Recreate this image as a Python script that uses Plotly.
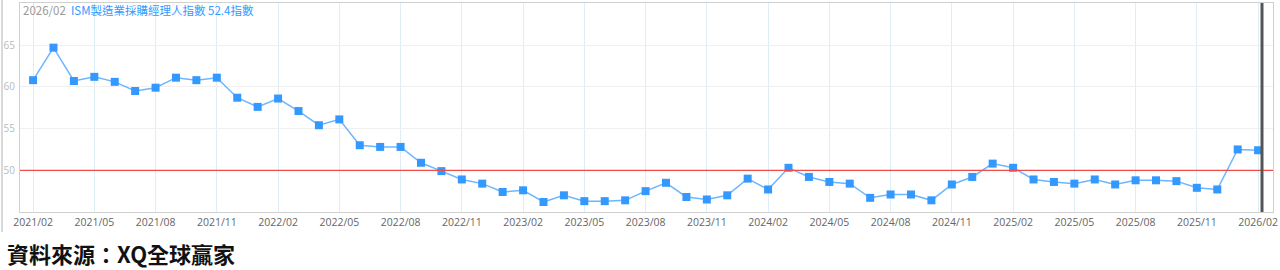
import plotly.graph_objects as go

months = [
    "2021/02","2021/03","2021/04","2021/05","2021/06","2021/07","2021/08","2021/09","2021/10","2021/11","2021/12",
    "2022/01","2022/02","2022/03","2022/04","2022/05","2022/06","2022/07","2022/08","2022/09","2022/10","2022/11","2022/12",
    "2023/01","2023/02","2023/03","2023/04","2023/05","2023/06","2023/07","2023/08","2023/09","2023/10","2023/11","2023/12",
    "2024/01","2024/02","2024/03","2024/04","2024/05","2024/06","2024/07","2024/08","2024/09","2024/10","2024/11","2024/12",
    "2025/01","2025/02","2025/03","2025/04","2025/05","2025/06","2025/07","2025/08","2025/09","2025/10","2025/11","2025/12",
    "2026/01","2026/02",
]
pmi = [
    60.8, 64.7, 60.7, 61.2, 60.6, 59.5, 59.9, 61.1, 60.8, 61.1, 58.7,
    57.6, 58.6, 57.1, 55.4, 56.1, 53.0, 52.8, 52.8, 50.9, 49.9, 48.9, 48.4,
    47.4, 47.6, 46.2, 47.0, 46.3, 46.3, 46.4, 47.5, 48.5, 46.8, 46.5, 47.0,
    49.0, 47.7, 50.3, 49.2, 48.6, 48.4, 46.7, 47.1, 47.1, 46.4, 48.3, 49.2,
    50.8, 50.3, 48.9, 48.6, 48.4, 48.9, 48.3, 48.8, 48.8, 48.7, 47.9, 47.7,
    52.5, 52.4,
]
threshold = 50
y_ticks = [50, 55, 60, 65]
tick_step = 3
title_date = "2026/02"
title_name = "ISM製造業採購經理人指數"
title_unit = "指數"
source_text = "資料來源：XQ全球贏家"

x_idx = list(range(len(months)))
tickvals = x_idx[::tick_step]
ticktext = months[::tick_step]

W, H = 1280, 270
L, R, T, B = 20, 7, 3, 58
pw, ph = W - L - R, H - T - B

def px_x(p):
    return (p - L) / pw

def px_y(p):
    return (H - B - p) / ph

fig = go.Figure()
fig.add_trace(go.Scatter(
    x=x_idx, y=pmi, mode="lines+markers",
    line=dict(color="#6cb6ff", width=1.5),
    marker=dict(symbol="square", size=8, color="#3399ff"),
    hoverinfo="skip", showlegend=False,
))

fig.add_shape(type="line", xref="paper", yref="y", x0=0, x1=1, y0=threshold, y1=threshold,
              line=dict(color="#ee4b4b", width=1.2), layer="above")
# cursor line
fig.add_shape(type="line", xref="paper", yref="paper", x0=px_x(1262), x1=px_x(1262), y0=0, y1=1,
              line=dict(color="#555555", width=3), layer="above")
# outer panel left border
fig.add_shape(type="line", xref="paper", yref="paper", x0=px_x(2), x1=px_x(2), y0=px_y(232), y1=px_y(0),
              line=dict(color="#cccccc", width=1.5))

fig.add_annotation(
    xref="paper", yref="paper", x=px_x(21), y=px_y(10), xanchor="left", yanchor="middle",
    text=f"<span style='color:#999999'>{title_date}</span>  "
         f"<span style='color:#3399ff'>{title_name} {pmi[-1]}{title_unit}</span>",
    showarrow=False, font=dict(size=11.5, family="Noto Sans CJK TC, Noto Sans, sans-serif"),
)
fig.add_annotation(
    xref="paper", yref="paper", x=px_x(6), y=px_y(253), xanchor="left", yanchor="middle",
    text=f"<b>{source_text}</b>", showarrow=False, borderpad=0,
    font=dict(size=22, color="#111111", family="Noto Sans CJK TC, sans-serif"),
)

fig.update_layout(
    width=W, height=H, margin=dict(l=L, r=R, t=T, b=B),
    paper_bgcolor="white", plot_bgcolor="white",
    xaxis=dict(range=[-0.64, len(months) - 1 + 0.73], tickvals=tickvals, ticktext=ticktext,
               showgrid=True, gridcolor="#ddeef6", gridwidth=1, zeroline=False,
               showline=True, linecolor="#d0d0d0", mirror=True,
               tickfont=dict(size=10.5, color="#666666", family="Open Sans, sans-serif"),
               ticks="", fixedrange=True),
    yaxis=dict(range=[45, 70.05], tickvals=y_ticks, showgrid=True, gridcolor="#f0f0f0",
               zeroline=False, showline=True, linecolor="#d0d0d0", mirror=True,
               tickfont=dict(size=10, color="#bbbbbb", family="Open Sans, sans-serif"),
               ticks="", ticklabelstandoff=2, fixedrange=True),
)

fig.write_html("out.html", config={"displayModeBar": False})
